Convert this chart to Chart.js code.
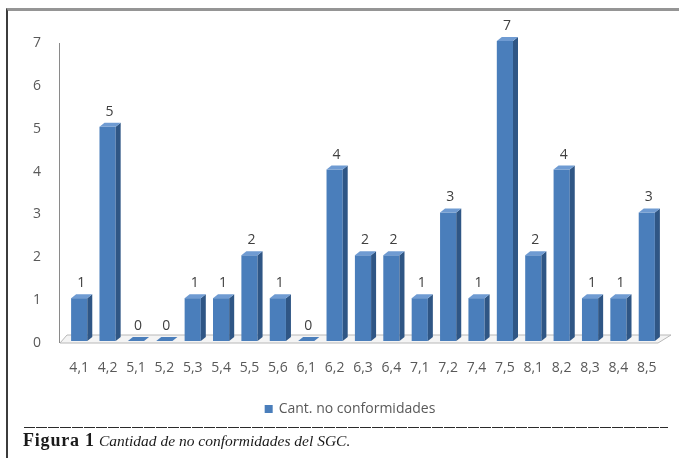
<!DOCTYPE html>
<html>
<head>
<meta charset="utf-8">
<script src="https://cdn.jsdelivr.net/npm/chart.js@4.4.1/dist/chart.umd.min.js"></script>
<style>
  html, body { margin: 0; padding: 0; background: #fff; }
  #wrap { position: relative; width: 679px; height: 458px; overflow: hidden; }
  #chart { position: absolute; left: 0; top: 0; }
  #frame { position: absolute; left: 6px; top: 8px; width: 720px; height: 520px;
           border-left: 2px solid #3c3c3c; border-top: 3px solid #959595; }
  #rule { position: absolute; left: 24px; top: 427px; width: 644px; height: 1px;
          background: repeating-linear-gradient(to right, #2a2a2a 0 11px, transparent 11px 12px); }
  #caption { position: absolute; left: 23px; top: 430px; font-family: "Liberation Serif", serif;
             color: #1a1a1a; white-space: nowrap; }
  #caption b { font-weight: bold; font-size: 18px; letter-spacing: 0.8px; }
  #caption i { font-style: italic; font-size: 15.5px; }
</style>
</head>
<body>
<div id="wrap">
  <canvas id="chart" width="679" height="458"></canvas>
  <div id="frame"></div>
  <div id="rule"></div>
  <div id="caption"><b>Figura 1</b> <i>Cantidad de no conformidades del SGC.</i></div>
</div>
<script>
// Non-conformities per clause of the quality management system
const categories = ['4,1','4,2','5,1','5,2','5,3','5,4','5,5','5,6','6,1','6,2','6,3','6,4','7,1','7,2','7,4','7,5','8,1','8,2','8,3','8,4','8,5'];
const counts = [1, 5, 0, 0, 1, 1, 2, 1, 0, 4, 2, 2, 1, 3, 1, 7, 2, 4, 1, 1, 3];
const yTicks = [0, 1, 2, 3, 4, 5, 6, 7];
const seriesName = 'Cant. no conformidades';

const FRONT = '#4a7ebb';
const SIDE = '#2f5685';
const TOP = '#6f9bd2';
const TEXT = '#595959';
const FONT = '"Open Sans", sans-serif';

// Extruded look: floor slab, side/top faces, value labels and legend
const pseudo3d = {
  id: 'pseudo3d',
  beforeDatasetsDraw(chart) {
    const { ctx, chartArea: a, scales } = chart;
    const y0 = scales.y.getPixelForValue(0);
    ctx.save();
    // floor slab
    ctx.beginPath();
    ctx.moveTo(a.left - 5, y0 + 2);
    ctx.lineTo(a.right - 3, y0 + 2);
    ctx.lineTo(a.right + 10, y0 - 6);
    ctx.lineTo(a.left + 2, y0 - 6);
    ctx.closePath();
    ctx.fillStyle = '#f4f4f4';
    ctx.fill();
    ctx.strokeStyle = '#b8b8b8';
    ctx.lineWidth = 1;
    ctx.stroke();
    // value axis line
    ctx.beginPath();
    ctx.moveTo(a.left - 5.5, scales.y.getPixelForValue(7) + 2);
    ctx.lineTo(a.left - 5.5, y0 + 2);
    ctx.strokeStyle = '#8a8a8a';
    ctx.stroke();
    ctx.restore();
  },
  afterDatasetsDraw(chart) {
    const { ctx } = chart;
    const meta = chart.getDatasetMeta(0);
    const dx = 5, dy = -4;
    ctx.save();
    meta.data.forEach((bar, i) => {
      const p = bar.getProps(['x', 'y', 'base', 'width'], true);
      const l = p.x - p.width / 2, r = p.x + p.width / 2;
      const top = p.y, bot = p.base;
      // side face
      ctx.beginPath();
      ctx.moveTo(r, top);
      ctx.lineTo(r + dx, top + dy);
      ctx.lineTo(r + dx, bot + dy);
      ctx.lineTo(r, bot);
      ctx.closePath();
      ctx.fillStyle = SIDE;
      ctx.fill();
      // top face
      ctx.beginPath();
      ctx.moveTo(l, top);
      ctx.lineTo(l + dx, top + dy);
      ctx.lineTo(r + dx, top + dy);
      ctx.lineTo(r, top);
      ctx.closePath();
      ctx.fillStyle = counts[i] === 0 ? FRONT : TOP;
      ctx.fill();
      // value label
      ctx.fillStyle = '#404040';
      ctx.font = '14px ' + FONT;
      ctx.textAlign = 'center';
      ctx.textBaseline = 'middle';
      ctx.fillText(String(counts[i]), p.x + 2, top - 15);
    });
    ctx.restore();
  },
  afterDraw(chart) {
    const { ctx, chartArea: a } = chart;
    ctx.save();
    ctx.font = '14px ' + FONT;
    const label = chart.data.datasets[0].label;
    const tw = ctx.measureText(label).width;
    const box = 8, gap = 6;
    const total = box + gap + tw;
    const cx = (a.left + a.right) / 2 - 13;
    const x = cx - total / 2;
    const y = 409;
    ctx.fillStyle = FRONT;
    ctx.fillRect(x, y - box / 2, box, box);
    ctx.fillStyle = TEXT;
    ctx.textAlign = 'left';
    ctx.textBaseline = 'middle';
    ctx.fillText(label, x + box + gap, y);
    ctx.restore();
  }
};

new Chart(document.getElementById('chart'), {
  type: 'bar',
  data: {
    labels: categories,
    datasets: [{
      label: seriesName,
      data: counts,
      backgroundColor: FRONT,
      borderWidth: 0,
      categoryPercentage: 1,
      barPercentage: 0.57
    }]
  },
  options: {
    responsive: false,
    animation: false,
    events: [],
    layout: { padding: { left: 0, right: 18, top: 41, bottom: 0 } },
    plugins: {
      legend: { display: false },
      tooltip: { enabled: false }
    },
    scales: {
      x: {
        grid: { display: false, drawTicks: false },
        border: { display: false },
        ticks: { color: TEXT, font: { family: FONT, size: 14 }, padding: 19, maxRotation: 0, autoSkip: false },
        afterFit(scale) { scale.height = 117; }
      },
      y: {
        min: 0,
        max: 7,
        grid: { display: false, drawTicks: false },
        border: { display: false },
        afterBuildTicks(scale) { scale.ticks = yTicks.map(v => ({ value: v })); },
        ticks: { color: TEXT, font: { family: FONT, size: 14 }, padding: 24, labelOffset: 2 },
        afterFit(scale) { scale.width = 65; }
      }
    }
  },
  plugins: [pseudo3d]
});
</script>
</body>
</html>
